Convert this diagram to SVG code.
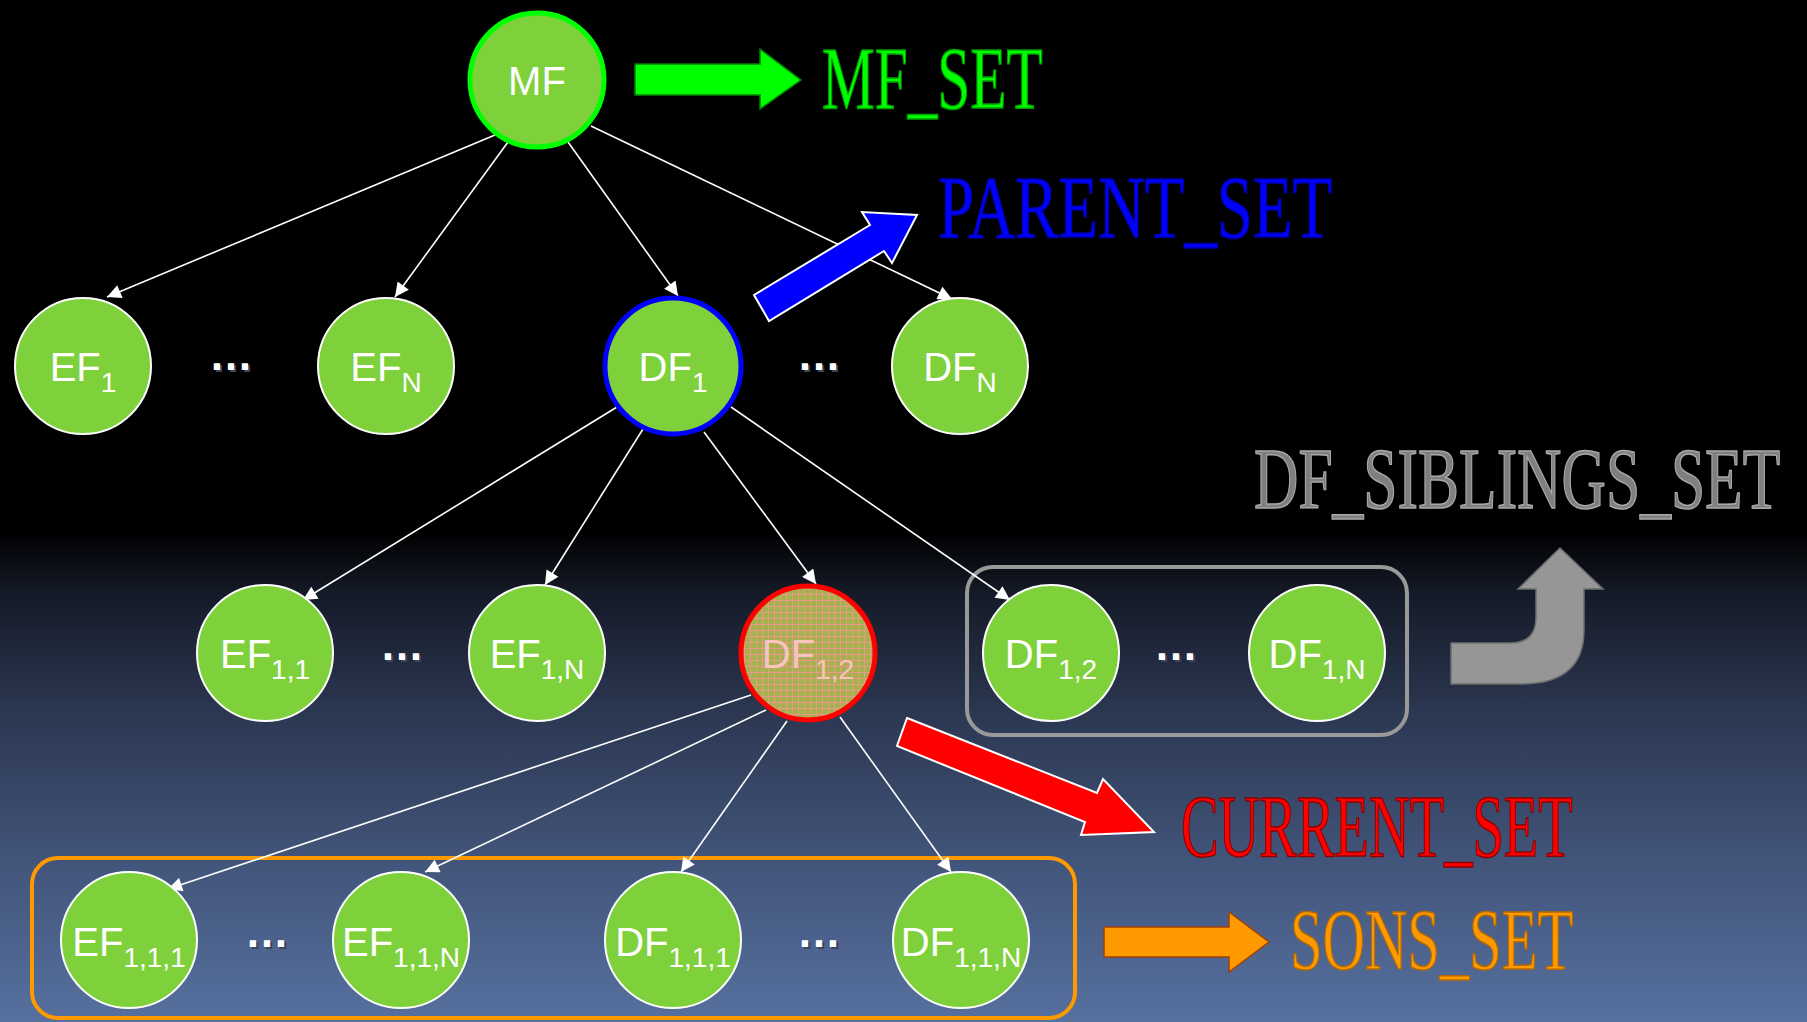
<svg xmlns="http://www.w3.org/2000/svg" width="1807" height="1022" viewBox="0 0 1807 1022">
<defs>
<linearGradient id="bg" gradientUnits="userSpaceOnUse" x1="0" y1="0" x2="0" y2="1022">
<stop offset="0" stop-color="#000"/>
<stop offset="0.52" stop-color="#000"/>
<stop offset="0.58" stop-color="#141a27"/>
<stop offset="0.7" stop-color="#2c3852"/>
<stop offset="0.85" stop-color="#43567c"/>
<stop offset="1" stop-color="#56709f"/>
</linearGradient>
<pattern id="grid" patternUnits="userSpaceOnUse" width="6" height="6">
<rect width="6" height="6" fill="#a4b24e"/>
<path d="M0,0.5 H6 M0.5,0 V6" stroke="#e89a86" stroke-width="1"/>
</pattern>
<marker id="ah" viewBox="0 0 10 10" refX="10" refY="5" markerWidth="17" markerHeight="14" markerUnits="userSpaceOnUse" orient="auto">
<path d="M0,0 L10,5 L0,10 z" fill="#fff"/>
</marker>
<style>
.node{fill:#7fd13b;stroke:#fff;stroke-width:2}
.lbl{font-family:"Liberation Sans",Arial,sans-serif;font-size:40px;fill:#fff;text-anchor:middle}
.sub{font-size:28px}
.edge{stroke:#fff;stroke-width:1.6;fill:none;marker-end:url(#ah)}
.dots{font-family:"Liberation Sans",Arial,sans-serif;font-size:44px;font-weight:bold;text-anchor:middle}
.set{font-family:"Liberation Serif","Times New Roman",serif;font-size:88px;stroke-width:1.5}
</style>
</defs>
<rect width="1807" height="1022" fill="url(#bg)"/>

<g id="groups">
<rect x="32" y="858" width="1043" height="160" rx="26" fill="none" stroke="#ff9900" stroke-width="4"/>
<rect x="967" y="567" width="440" height="168" rx="26" fill="none" stroke="#999" stroke-width="4"/>
</g>

<g id="connectors">
<line class="edge" x1="495" y1="135" x2="107" y2="297"/>
<line class="edge" x1="508" y1="142" x2="395" y2="297"/>
<line class="edge" x1="568" y1="142" x2="678" y2="296"/>
<line class="edge" x1="591" y1="126" x2="952" y2="299"/>
<line class="edge" x1="617" y1="407" x2="303" y2="600"/>
<line class="edge" x1="643" y1="429" x2="545" y2="585"/>
<line class="edge" x1="704" y1="432" x2="816" y2="584"/>
<line class="edge" x1="731" y1="407" x2="1010" y2="600"/>
<line class="edge" x1="751" y1="695" x2="168" y2="889"/>
<line class="edge" x1="766" y1="710" x2="425" y2="872"/>
<line class="edge" x1="787" y1="721" x2="681" y2="872"/>
<line class="edge" x1="840" y1="717" x2="951" y2="872"/>
</g>

<g id="n-MF"><circle cx="537" cy="80" r="67" fill="#7fd13b" stroke="#00ff00" stroke-width="5"/><text class="lbl" x="537" y="95">MF</text></g>
<g id="n-EF1"><circle class="node" cx="83" cy="366" r="68"/><text class="lbl" x="83" y="381">EF<tspan class="sub" dy="11">1</tspan></text></g>
<g id="n-EFN"><circle class="node" cx="386" cy="366" r="68"/><text class="lbl" x="386" y="381">EF<tspan class="sub" dy="11">N</tspan></text></g>
<g id="n-DF1"><circle cx="673" cy="366" r="68" fill="#7fd13b" stroke="#0000ff" stroke-width="5"/><text class="lbl" x="673" y="381">DF<tspan class="sub" dy="11">1</tspan></text></g>
<g id="n-DFN"><circle class="node" cx="960" cy="366" r="68"/><text class="lbl" x="960" y="381">DF<tspan class="sub" dy="11">N</tspan></text></g>
<g id="n-EF11"><circle class="node" cx="265" cy="653" r="68"/><text class="lbl" x="265" y="668">EF<tspan class="sub" dy="11">1,1</tspan></text></g>
<g id="n-EF1N"><circle class="node" cx="537" cy="653" r="68"/><text class="lbl" x="537" y="668">EF<tspan class="sub" dy="11">1,N</tspan></text></g>
<g id="n-DF12-current"><circle cx="808" cy="653" r="67" fill="url(#grid)" stroke="#ff0000" stroke-width="5"/><text class="lbl" x="808" y="668" style="fill:#f7c4c0">DF<tspan class="sub" dy="11">1,2</tspan></text></g>
<g id="n-DF12"><circle class="node" cx="1051" cy="653" r="68"/><text class="lbl" x="1051" y="668">DF<tspan class="sub" dy="11">1,2</tspan></text></g>
<g id="n-DF1N"><circle class="node" cx="1317" cy="653" r="68"/><text class="lbl" x="1317" y="668">DF<tspan class="sub" dy="11">1,N</tspan></text></g>
<g id="n-EF111"><circle class="node" cx="129" cy="940" r="68"/><text class="lbl" x="129" y="956">EF<tspan class="sub" dy="11">1,1,1</tspan></text></g>
<g id="n-EF11N"><circle class="node" cx="401" cy="940" r="68"/><text class="lbl" x="401" y="956">EF<tspan class="sub" dy="11">1,1,N</tspan></text></g>
<g id="n-DF111"><circle class="node" cx="673" cy="940" r="68"/><text class="lbl" x="673" y="956">DF<tspan class="sub" dy="11">1,1,1</tspan></text></g>
<g id="n-DF11N"><circle class="node" cx="961" cy="940" r="68"/><text class="lbl" x="961" y="956">DF<tspan class="sub" dy="11">1,1,N</tspan></text></g>

<g id="ellipses">
<g fill="#3a4560" class="dots">
<text x="233" y="372">…</text><text x="821" y="372">…</text><text x="404" y="662">…</text><text x="1178" y="662">…</text><text x="269" y="949">…</text><text x="821" y="949">…</text>
</g>
<g fill="#fff" class="dots">
<text x="231" y="370">…</text><text x="819" y="370">…</text><text x="402" y="660">…</text><text x="1176" y="660">…</text><text x="267" y="947">…</text><text x="819" y="947">…</text>
</g>
</g>

<g id="callouts">
<polygon points="635,64 760,64 760,49 801,80 760,109 760,95 635,95" fill="#00ff00" stroke="#008000" stroke-width="1.5"/>
<text class="set" transform="translate(822,108) scale(0.675,1)" x="0" y="0" textLength="327" lengthAdjust="spacingAndGlyphs" fill="#00ff00" stroke="#00a000">MF_SET</text>

<polygon points="754,295 870,225 862,212 917,215 892,263 884,251 769,321" fill="#0000ff" stroke="#fff" stroke-width="2"/>
<text class="set" transform="translate(938,237) scale(0.726,1)" x="0" y="0" textLength="543" lengthAdjust="spacingAndGlyphs" fill="#0000ff" stroke="#0000a8">PARENT_SET</text>

<text class="set" transform="translate(1254,508) scale(0.715,1)" x="0" y="0" textLength="736" lengthAdjust="spacingAndGlyphs" fill="#7f7f7f" stroke="#a8a8a8" style="font-size:86px">DF_SIBLINGS_SET</text>
<path d="M1451,643 L1510,643 Q1536,643 1536,617 L1536,589 L1518,589 L1560,548 L1603,589 L1584,589 L1584,630 Q1584,684 1521,684 L1451,684 Z" fill="#969696" stroke="#6e6e6e" stroke-width="1.5"/>

<polygon points="907,718 1097,793 1103,779 1154,832 1081,835 1085,822 897,746" fill="#ff0000" stroke="#fff" stroke-width="2"/>
<text class="set" transform="translate(1181,856) scale(0.641,1)" x="0" y="0" textLength="611" lengthAdjust="spacingAndGlyphs" fill="#ff0000" stroke="#8b0000">CURRENT_SET</text>

<polygon points="1104,927 1229,927 1229,912 1269,942 1229,972 1229,957 1104,957" fill="#ff9900" stroke="#a0400a" stroke-width="1.5"/>
<text class="set" transform="translate(1290,969) scale(0.681,1)" x="0" y="0" textLength="416" lengthAdjust="spacingAndGlyphs" fill="#ff9900" stroke="#b86a00" style="font-size:86px">SONS_SET</text>
</g>
</svg>
